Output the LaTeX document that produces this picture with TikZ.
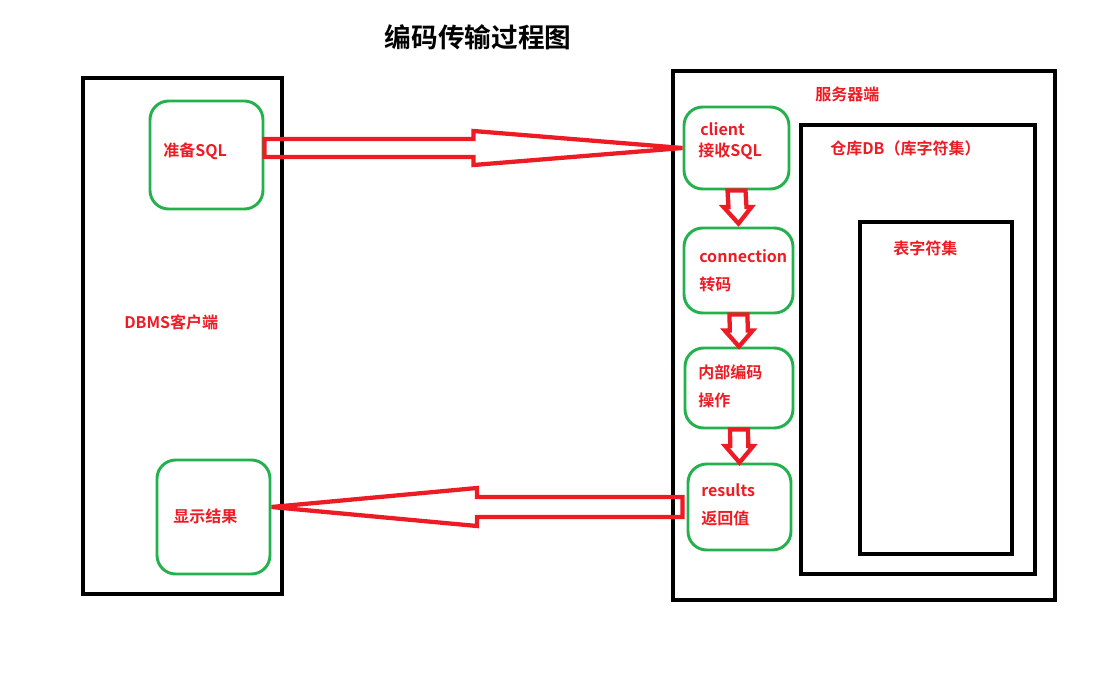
\documentclass[tikz,border=0pt]{standalone}
\usepackage{fontspec}
\setmainfont{Noto Sans CJK SC}[BoldFont={Noto Sans CJK SC Bold}]
\usetikzlibrary{calc}
\definecolor{paintred}{RGB}{237,28,36}
\definecolor{paintgreen}{RGB}{34,177,76}
\tikzset{
	gbox/.style={draw=paintgreen, line width=2.2pt, rounded corners=14pt, rectangle, inner sep=0pt},
	bbox/.style={draw=black, line width=2.6pt},
	rtext/.style={text=paintred, font=\bfseries\fontsize{12}{14}\selectfont, anchor=west, inner sep=0pt},
	fat/.style={draw=paintred, line width=3.2pt, line join=miter}
}
\def\thickarrow[#1](#2)(#3)(#4)(#5){\draw[#1] ($(#2)+(#4)$) -- ($(#2)!0.5!(#3)+(#4)$) -- ($(#2)!0.5!(#3)+(#5)$) -- (#3) -- ($(#2)!0.5!(#3)-(#5)$) -- ($(#2)!0.5!(#3)-(#4)$) -- ($(#2)-(#4)$) -- cycle;}

\begin{document}
\begin{tikzpicture}[x=0.75pt, y=-0.75pt]
	%%%%% START %%%%%
	\useasboundingbox (0,0) rectangle (1118,675);
	
	\node[font=\bfseries\fontsize{20}{24}\selectfont, inner sep=0pt] (title) at (478,37) {编码传输过程图};
	
	% client side
	\draw[bbox] (83,78) rectangle (282,594);
	\node[gbox, minimum width=84.75pt, minimum height=81pt] (prep) at (206.5,155) {};
	\node[gbox, minimum width=84.75pt, minimum height=85.5pt] (show) at (213.5,517) {};
	\node[rtext] (tprep) at (163,151) {准备SQL};
	\node[rtext] (tdbms) at (124,322) {DBMS客户端};
	\node[rtext] (tshow) at (173,516) {显示结果};
	
	% server side
	\draw[bbox] (673,71) rectangle (1055,600);
	\draw[bbox] (801,125) rectangle (1035,574);
	\draw[bbox] (860,222) rectangle (1012,554);
	\node[rtext] (tserver) at (815,94) {服务器端};
	\node[rtext] (tdb) at (830,148) {仓库DB（库字符集）};
	\node[rtext] (ttable) at (893,248) {表字符集};
	
	\node[gbox, minimum width=78.75pt, minimum height=61.5pt] (client) at (736.5,148) {};
	\node[gbox, minimum width=81.75pt, minimum height=63.75pt] (conn) at (738.5,270.5) {};
	\node[gbox, minimum width=81pt, minimum height=60pt] (inner) at (739,388) {};
	\node[gbox, minimum width=77.25pt, minimum height=64.5pt] (results) at (739.5,507) {};
	
	\node[rtext] (tclient) at (700,129) {client};
	\node[rtext] (trecv) at (698,151) {接收SQL};
	\node[rtext] (tconn) at (699,256) {connection};
	\node[rtext] (tconv) at (699,284) {转码};
	\node[rtext] (tinner) at (698,372) {内部编码};
	\node[rtext] (top) at (698,400) {操作};
	\node[rtext] (tres) at (701,490) {results};
	\node[rtext] (tret) at (701,518) {返回值};
	
	% arrows
	\thickarrow[fat](prep.east |- client.west)(client.west)(0,9)(0,17)
	\thickarrow[fat]($(results.west)+(-4,0)$)(show.east |- results.west)(0,10)(0,19)
	\thickarrow[fat](client.south)($(conn.north)+(0,-3)$)(9,0)(14,0)
	\thickarrow[fat](conn.south)(inner.north)(9,0)(14,0)
	\thickarrow[fat](inner.south)(results.north)(9,0)(14,0)
	
	%%%%% END %%%%%
\end{tikzpicture}
\end{document}
